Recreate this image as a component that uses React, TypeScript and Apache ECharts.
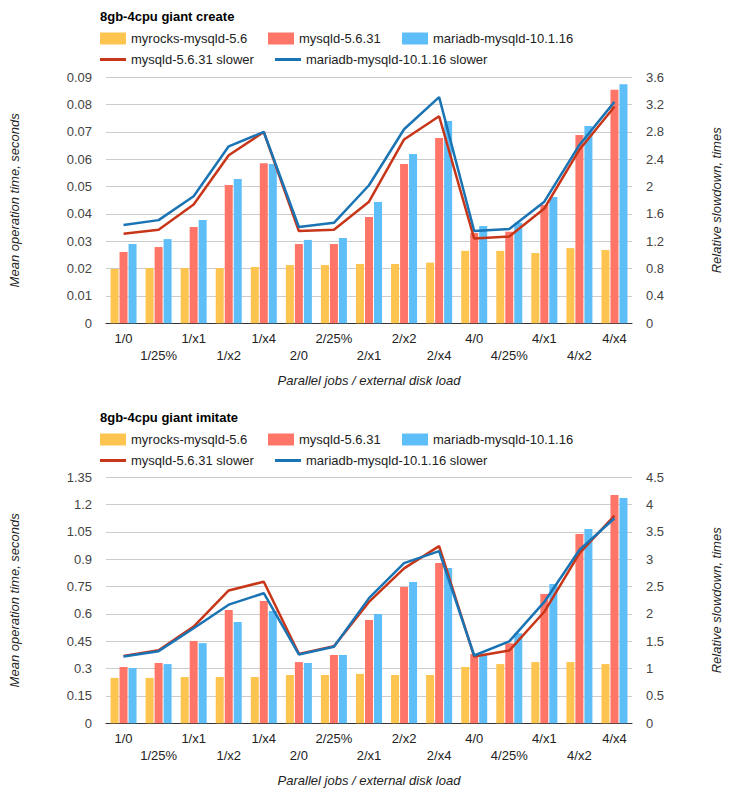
import React, { useEffect, useRef } from "react";
import * as echarts from "echarts";

const categories = ["1/0", "1/25%", "1/x1", "1/x2", "1/x4", "2/0", "2/25%", "2/x1", "2/x2", "2/x4", "4/0", "4/25%", "4/x1", "4/x2", "4/x4"];

const seriesNames = ["myrocks-mysqld-5.6", "mysqld-5.6.31", "mariadb-mysqld-10.1.16", "mysqld-5.6.31 slower", "mariadb-mysqld-10.1.16 slower"];

const createMyrocks = [0.0199, 0.0202, 0.0202, 0.0202, 0.0206, 0.0213, 0.0213, 0.0217, 0.0217, 0.0222, 0.0265, 0.0265, 0.0257, 0.0275, 0.0268];
const createMysql = [0.0261, 0.0279, 0.0352, 0.0506, 0.0586, 0.029, 0.029, 0.0389, 0.0583, 0.0678, 0.033, 0.0335, 0.0433, 0.0689, 0.0854];
const createMaria = [0.029, 0.0308, 0.0378, 0.0528, 0.0583, 0.0305, 0.0312, 0.0444, 0.0619, 0.074, 0.0356, 0.0368, 0.0462, 0.0722, 0.0875];
const createMysqlSlower = [1.31, 1.37, 1.74, 2.46, 2.8, 1.35, 1.37, 1.78, 2.69, 3.03, 1.24, 1.27, 1.68, 2.54, 3.17];
const createMariaSlower = [1.44, 1.51, 1.86, 2.59, 2.8, 1.41, 1.47, 2.02, 2.84, 3.31, 1.35, 1.38, 1.78, 2.61, 3.24];

const imitateMyrocks = [0.249, 0.249, 0.254, 0.254, 0.254, 0.265, 0.265, 0.271, 0.265, 0.265, 0.309, 0.325, 0.336, 0.336, 0.325];
const imitateMysql = [0.309, 0.331, 0.452, 0.622, 0.671, 0.336, 0.375, 0.567, 0.748, 0.88, 0.38, 0.439, 0.71, 1.039, 1.253];
const imitateMaria = [0.303, 0.325, 0.44, 0.556, 0.616, 0.331, 0.375, 0.6, 0.775, 0.852, 0.375, 0.494, 0.765, 1.066, 1.236];
const imitateMysqlSlower = [1.23, 1.335, 1.77, 2.43, 2.59, 1.27, 1.41, 2.22, 2.835, 3.24, 1.22, 1.33, 2.04, 3.11, 3.8];
const imitateMariaSlower = [1.22, 1.32, 1.74, 2.17, 2.38, 1.26, 1.4, 2.29, 2.93, 3.15, 1.24, 1.5, 2.22, 3.17, 3.75];

const titles = ["8gb-4cpu giant create", "8gb-4cpu giant imitate"];
const leftAxisName = "Mean operation time, seconds";
const rightAxisName = "Relative slowdown, times";
const xAxisName = "Parallel jobs / external disk load";

const colors = ["#fdc44f", "#ff7669", "#5ebef8", "#c8361a", "#1a74b4"];
const FONT = "'Liberation Sans', Arial, sans-serif";

export default function App() {
  const ref = useRef<HTMLDivElement>(null);
  useEffect(() => {
    const chart = echarts.init(ref.current!, null, { renderer: "svg" });
    const panels = [
      { top: 77.3, lmax: 0.09, lint: 0.01, rmax: 3.6, rint: 0.4, ld: 100, rd: 10, data: [createMyrocks, createMysql, createMaria, createMysqlSlower, createMariaSlower] },
      { top: 477.3, lmax: 1.35, lint: 0.15, rmax: 4.5, rint: 0.5, ld: 100, rd: 10, data: [imitateMyrocks, imitateMysql, imitateMaria, imitateMysqlSlower, imitateMariaSlower] },
    ];
    const offY = [0, 400];
    const legendPos = [
      [100, 0], [268, 0], [402, 0], [100, 1], [275, 1],
    ];
    const title: any[] = [];
    const legend: any[] = [];
    const grid: any[] = [];
    const xAxis: any[] = [];
    const yAxis: any[] = [];
    const series: any[] = [];
    panels.forEach((p, pi) => {
      title.push({
        text: titles[pi], left: 100, top: 10 + offY[pi] + (pi ? 1 : 0), padding: 0,
        textStyle: { fontFamily: FONT, fontSize: 13, fontWeight: "bold", color: "#000" },
      });
      seriesNames.forEach((nm, si) => {
        const [lx, row] = legendPos[si];
        legend.push({
          data: [{ name: nm, icon: "rect" }], left: lx, top: offY[pi] + (row ? 53 : 32) + (pi ? 1 : 0), padding: 0,
          itemWidth: 26, itemHeight: row ? 3 : 12, itemGap: 0,
          textStyle: { fontFamily: FONT, fontSize: 13, color: "#222", padding: [0, 0, 0, 0] },
        });
      });
      grid.push({ left: 100, right: 101, top: p.top, height: 246 });
      xAxis.push({
        type: "category", gridIndex: pi, data: categories,
        axisTick: { show: false },
        axisLine: { lineStyle: { color: "#333", width: 1 } },
        axisLabel: {
          interval: 0, margin: 7, fontFamily: FONT, fontSize: 13, color: "#222", lineHeight: 17,
          formatter: (v: string, i: number) => (i % 2 ? "\n" + v : v),
        },
        name: xAxisName, nameLocation: "middle", nameGap: 51,
        nameTextStyle: { fontFamily: FONT, fontSize: 13, fontStyle: "italic", color: "#222" },
      });
      yAxis.push({
        type: "value", gridIndex: pi, min: 0, max: p.lmax, interval: p.lint,
        axisLine: { show: false }, axisTick: { show: false },
        splitLine: { lineStyle: { color: "#ccc", width: 1 } },
        axisLabel: {
          margin: 14, fontFamily: FONT, fontSize: 13, color: "#444",
          formatter: (v: number) => String(Math.round(v * p.ld) / p.ld),
        },
        name: leftAxisName, nameLocation: "middle", nameGap: 85, nameRotate: 90,
        nameTextStyle: { fontFamily: FONT, fontSize: 13, fontStyle: "italic", color: "#222" },
      });
      yAxis.push({
        type: "value", gridIndex: pi, position: "right", min: 0, max: p.rmax, interval: p.rint,
        axisLine: { show: false }, axisTick: { show: false }, splitLine: { show: false },
        axisLabel: {
          margin: 14, fontFamily: FONT, fontSize: 13, color: "#444",
          formatter: (v: number) => String(Math.round(v * p.rd) / p.rd),
        },
        name: rightAxisName, nameLocation: "middle", nameGap: 78, nameRotate: 90,
        nameTextStyle: { fontFamily: FONT, fontSize: 13, fontStyle: "italic", color: "#222" },
      });
      for (let si = 0; si < 3; si++) {
        series.push({
          type: "bar", name: seriesNames[si], xAxisIndex: pi, yAxisIndex: pi * 2,
          data: p.data[si], barWidth: 8, barGap: "12.5%",
          itemStyle: { color: colors[si] }, z: 2,
        });
      }
      for (let si = 3; si < 5; si++) {
        series.push({
          type: "line", name: seriesNames[si], xAxisIndex: pi, yAxisIndex: pi * 2 + 1,
          data: p.data[si], symbol: "none", showSymbol: false,
          lineStyle: { color: colors[si], width: 2.5 }, itemStyle: { color: colors[si] }, z: 3,
        });
      }
    });
    chart.setOption({
      animation: false,
      backgroundColor: "#fff",
      title, legend, grid, xAxis, yAxis, series,
    });
    return () => chart.dispose();
  }, []);
  return <div ref={ref} style={{ position: "absolute", left: 0, top: 0, width: 733, height: 806 }} />;
}
